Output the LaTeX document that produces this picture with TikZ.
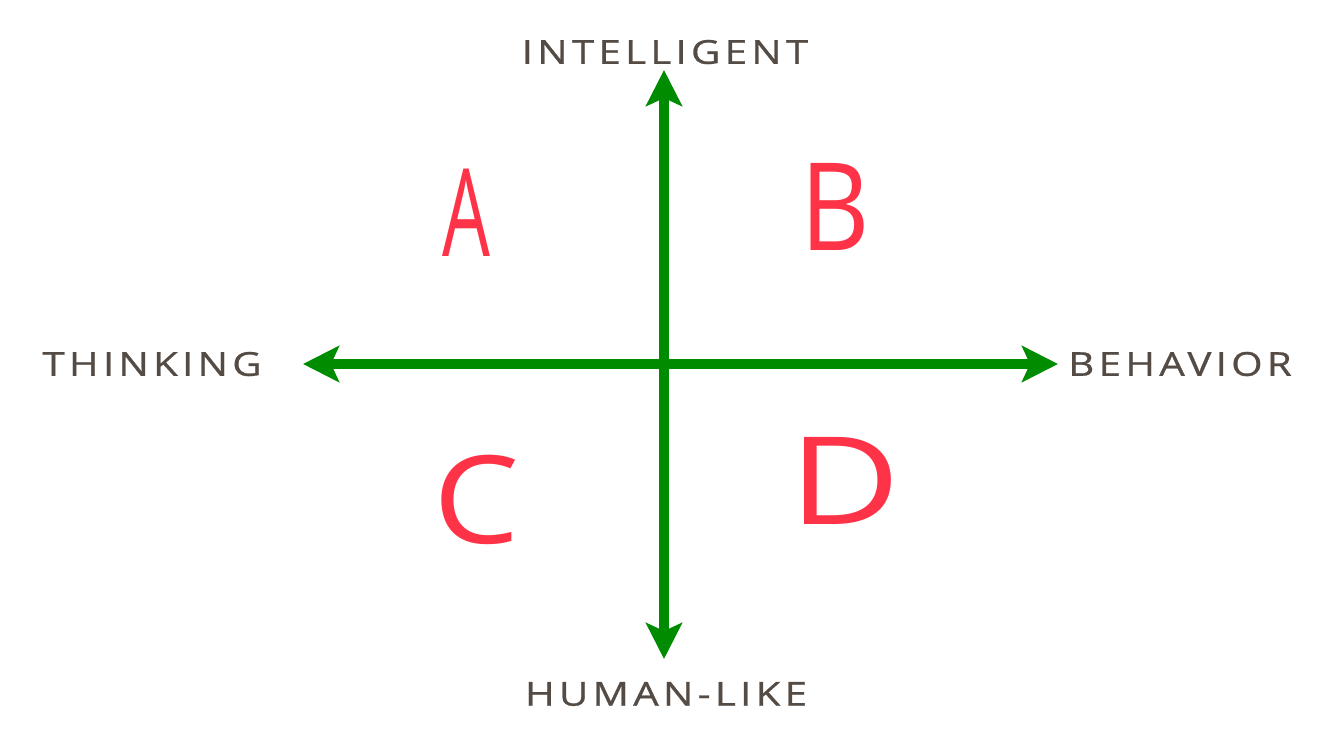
\documentclass[tikz,border=0pt]{standalone}
\usepackage{fontspec}
\usepackage{graphicx}
\usetikzlibrary{arrows.meta}
\newfontfamily\handfont[FakeStretch=1.22,LetterSpace=13,FakeBold=0.8]{Open Sans}
\newfontfamily\bigletter{Open Sans}
\definecolor{axisgreen}{HTML}{008C00}
\definecolor{labelgray}{HTML}{544B45}
\definecolor{letterred}{HTML}{FF3347}
\begin{document}
\begin{tikzpicture}[x=1pt,y=-1pt,
  axis/.style={draw=axisgreen,line width=10pt,
    {Stealth[length=36pt,width=36pt,inset=8pt]}-{Stealth[length=36pt,width=36pt,inset=8pt]}},
  axislabel/.style={text=labelgray,font=\handfont\fontsize{33}{33}\selectfont,inner sep=0pt,anchor=center},
  quadletter/.style={text=letterred,font=\bigletter\fontsize{122}{122}\selectfont,inner sep=0pt,anchor=center}]
\useasboundingbox[fill=white] (0,0) rectangle (1332,750);
\coordinate (left) at (303,364);
\coordinate (right) at (1058,364);
\coordinate (top) at (664,70);
\coordinate (bottom) at (664,659);
\draw[axis] (left) -- (right);
\draw[axis] (top) -- (bottom);
\node[axislabel] (intel) at (665,52) {INTELLIGENT};
\node[axislabel] (think) at (152,364) {THINKING};
\node[axislabel] (behav) at (1180,364) {BEHAVIOR};
\node[axislabel] (human) at (666,694) {HUMAN-LIKE};
\node[quadletter] (qa) at (466,213) {\scalebox{0.62}[1]{A}};
\node[quadletter] (qb) at (835,207) {\scalebox{0.88}[1]{B}};
\node[quadletter] (qc) at (477,500) {\scalebox{1.12}[1]{C}};
\node[quadletter] (qd) at (845,481) {\scalebox{1.25}[1]{D}};
\end{tikzpicture}
\end{document}
